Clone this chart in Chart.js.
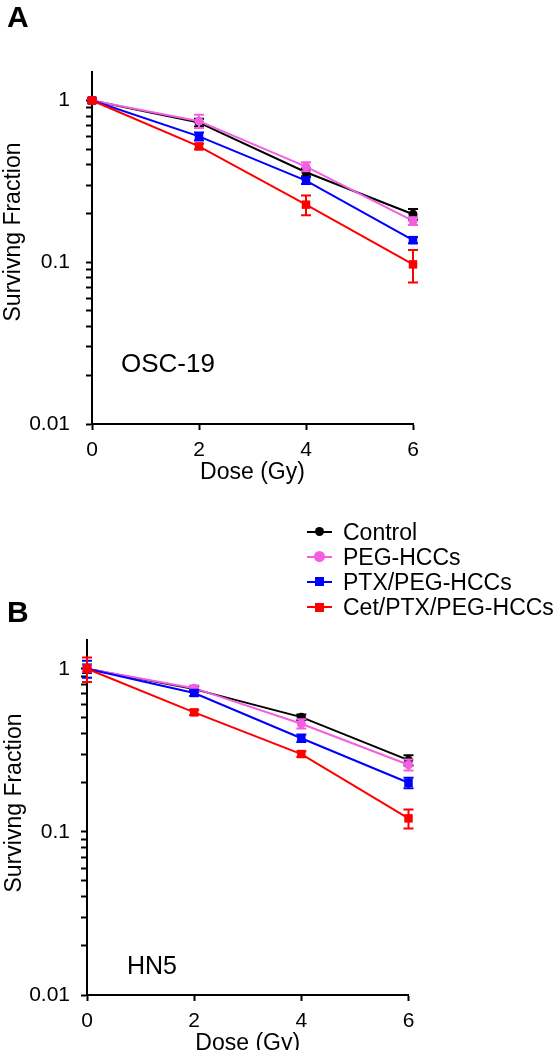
<!DOCTYPE html>
<html>
<head>
<meta charset="utf-8">
<script src="https://cdn.jsdelivr.net/npm/chart.js@4.4.1/dist/chart.umd.min.js"></script>
<style>
  body { margin: 0; width: 556px; height: 1050px; position: relative; overflow: hidden; background: #fff;
         font-family: "Liberation Sans", Arial, sans-serif; color: #000; }
  canvas { position: absolute; left: 0; }
  .lbl { position: absolute; white-space: nowrap; }
  .panel { font-weight: bold; font-size: 30px; line-height: 30px; }
  .cell { font-size: 26px; line-height: 26px; }
  .ytitle { font-size: 23px; line-height: 23px; transform: translate(-50%, -50%) rotate(-90deg); }
  .leg { position: absolute; left: 307px; height: 24px; }
  .leg .ln { position: absolute; left: 0; top: 11px; width: 25px; height: 2px; }
  .leg .mk { position: absolute; }
  .leg .tx { position: absolute; left: 36px; top: 0; font-size: 23px; line-height: 24px; white-space: nowrap; }
</style>
</head>
<body>
<canvas id="chartA" width="556" height="500" style="top:0"></canvas>
<canvas id="chartB" width="556" height="570" style="top:500px"></canvas>

<div class="lbl panel" style="left:7px;top:2px">A</div>
<div class="lbl panel" style="left:7px;top:597px">B</div>
<div class="lbl cell" style="left:121px;top:350px">OSC-19</div>
<div class="lbl cell" style="left:127px;top:952px;font-size:25px">HN5</div>
<div class="lbl ytitle" style="left:12px;top:232px">Survivng Fraction</div>
<div class="lbl ytitle" style="left:13px;top:803px">Survivng Fraction</div>
<div id="legend"></div>

<script>
// x values and axis ticks
const doses = [0, 2, 4, 6];
const yTickLabels = [0.01, 0.1, 1];

const seriesNames = ["Control", "PEG-HCCs", "PTX/PEG-HCCs", "Cet/PTX/PEG-HCCs"];
const seriesColors = ["#000000", "#f45ee0", "#0000ff", "#ff0000"];
const seriesMarkers = ["circle", "circle", "rect", "rect"];

// A: OSC-19
const oscControl = [1, 0.73, 0.36, 0.198];
const oscControlErr = [0.03, 0.04, 0.02, 0.015];
const oscPeg = [1, 0.745, 0.39, 0.18];
const oscPegErr = [0.03, 0.07, 0.025, 0.01];
const oscPtx = [1, 0.60, 0.32, 0.137];
const oscPtxErr = [0.03, 0.035, 0.015, 0.006];
const oscCet = [1, 0.52, 0.227, 0.097];
const oscCetErr = [0.03, 0.02, 0.032, 0.022];

// B: HN5
const hnControl = [1, 0.75, 0.505, 0.275];
const hnControlErr = [0.06, 0.03, 0.02, 0.02];
const hnPeg = [1, 0.76, 0.46, 0.258];
const hnPegErr = [0.05, 0.03, 0.03, 0.02];
const hnPtx = [1, 0.71, 0.375, 0.2];
const hnPtxErr = [0.12, 0.03, 0.02, 0.015];
const hnCet = [1, 0.54, 0.30, 0.121];
const hnCetErr = [0.17, 0.02, 0.012, 0.016];

// log minor tick positions (1..9 per decade)
const logTicks = [];
[0.01, 0.1].forEach(d => {
  for (let k = 1; k <= 9; k++) logTicks.push(parseFloat((k * d).toPrecision(3)));
});
logTicks.push(1);

const errorBars = {
  id: "errorBars",
  beforeDatasetDraw(chart, args) {
    const ds = chart.data.datasets[args.index];
    if (!ds.errors) return;
    const ctx = chart.ctx;
    const xs = chart.scales.x, ys = chart.scales.y;
    ctx.save();
    ctx.strokeStyle = ds.borderColor;
    ctx.lineWidth = 2;
    ds.data.forEach((p, i) => {
      const e = ds.errors[i];
      if (!e) return;
      const px = xs.getPixelForValue(p.x);
      const top = ys.getPixelForValue(p.y + e);
      const bot = ys.getPixelForValue(p.y - e);
      ctx.beginPath();
      ctx.moveTo(px, top); ctx.lineTo(px, bot);
      ctx.moveTo(px - 5, top); ctx.lineTo(px + 5, top);
      ctx.moveTo(px - 5, bot); ctx.lineTo(px + 5, bot);
      ctx.stroke();
    });
    ctx.restore();
  }
};

function makeDatasets(values, errors) {
  return values.map((vals, i) => ({
    label: seriesNames[i],
    data: vals.map((v, j) => ({ x: doses[j], y: v })),
    errors: errors[i],
    borderColor: seriesColors[i],
    backgroundColor: seriesColors[i],
    borderWidth: 2,
    pointStyle: seriesMarkers[i],
    pointRadius: seriesMarkers[i] === "rect" ? 6 : 4.5,
    pointBorderWidth: 0,
    pointHoverRadius: 0,
    tension: 0,
    clip: false,
    order: 4 - i
  }));
}

function makeChart(id, datasets, box) {
  return new Chart(document.getElementById(id), {
    type: "line",
    data: { datasets: datasets },
    plugins: [errorBars],
    options: {
      responsive: false,
      animation: false,
      events: [],
      layout: { padding: { left: 0, top: box.top, right: box.right, bottom: box.bottom } },
      plugins: { legend: { display: false }, tooltip: { enabled: false } },
      scales: {
        x: {
          type: "linear",
          min: 0,
          max: 6,
          afterBuildTicks: s => { s.ticks = doses.map(v => ({ value: v })); },
          afterFit: s => { s.height = 60.5; },
          grid: { drawOnChartArea: false, drawTicks: true, tickLength: 6, tickColor: "#000", tickWidth: 2 },
          border: { display: true, color: "#000", width: 2 },
          ticks: { color: "#000", padding: 8, font: { family: "Liberation Sans", size: 21 }, autoSkip: false, maxRotation: 0 },
          title: { display: true, text: "Dose (Gy)", color: "#000", padding: 0,
                   font: { family: "Liberation Sans", size: 23, lineHeight: 1 } }
        },
        y: {
          type: "logarithmic",
          min: 0.01,
          max: 1.5,
          afterBuildTicks: s => {
            s.ticks = logTicks.map(v => ({ value: v, major: yTickLabels.includes(v) }));
          },
          afterFit: s => { s.width = box.left; },
          grid: { drawOnChartArea: false, drawTicks: true, tickLength: 6, tickColor: "#000", tickWidth: 2 },
          border: { display: true, color: "#000", width: 2 },
          ticks: {
            color: "#000",
            padding: box.tickPad,
            autoSkip: false,
            font: { family: "Liberation Sans", size: 21 },
            callback: v => (yTickLabels.includes(v) ? String(v) : "")
          }
        }
      }
    }
  });
}

makeChart("chartA",
  makeDatasets([oscControl, oscPeg, oscPtx, oscCet], [oscControlErr, oscPegErr, oscPtxErr, oscCetErr]),
  { left: 92, top: 72, right: 143, bottom: 15.5, tickPad: 16 });

makeChart("chartB",
  makeDatasets([hnControl, hnPeg, hnPtx, hnCet], [hnControlErr, hnPegErr, hnPtxErr, hnCetErr]),
  { left: 87, top: 140, right: 147.5, bottom: 14.5, tickPad: 11 });

// legend
const legend = document.getElementById("legend");
seriesNames.forEach((name, i) => {
  const row = document.createElement("div");
  row.className = "leg";
  row.style.top = (519.5 + i * 25.2) + "px";
  const ln = document.createElement("div");
  ln.className = "ln";
  ln.style.background = seriesColors[i];
  const mk = document.createElement("div");
  mk.className = "mk";
  const size = seriesMarkers[i] === "rect" ? 9 : (i === 0 ? 9 : 11);
  mk.style.width = size + "px";
  mk.style.height = size + "px";
  mk.style.left = (12.5 - size / 2) + "px";
  mk.style.top = (12 - size / 2) + "px";
  mk.style.background = seriesColors[i];
  if (seriesMarkers[i] === "circle") mk.style.borderRadius = "50%";
  const tx = document.createElement("div");
  tx.className = "tx";
  tx.textContent = name;
  row.appendChild(ln);
  row.appendChild(mk);
  row.appendChild(tx);
  legend.appendChild(row);
});
</script>
</body>
</html>
